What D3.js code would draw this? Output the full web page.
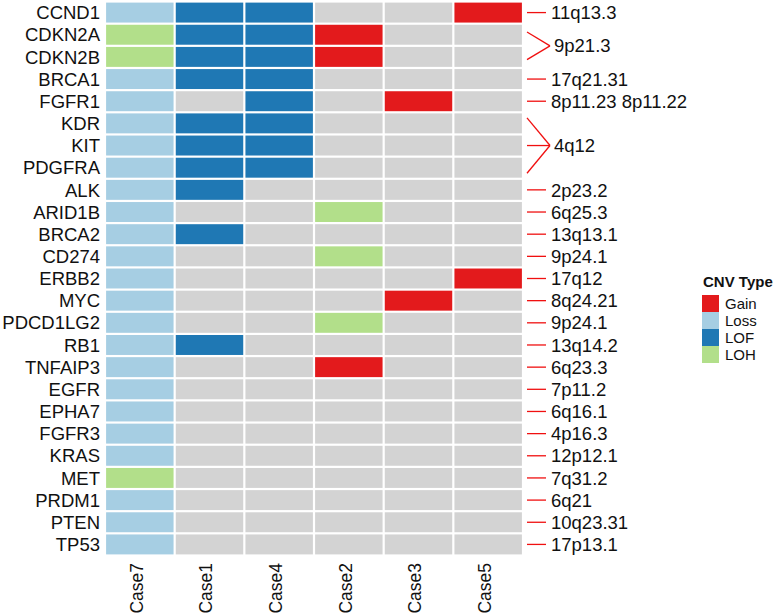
<!DOCTYPE html>
<html>
<head>
<meta charset="utf-8">
<script src="https://cdn.jsdelivr.net/npm/d3@7"></script>
<style>
  body { margin: 0; background: #fff; }
  svg { display: block; font-family: "Liberation Sans", Arial, sans-serif; }
</style>
</head>
<body>
<svg id="chart" width="776" height="616"></svg>
<script>
// data
var genes = ["CCND1", "CDKN2A", "CDKN2B", "BRCA1", "FGFR1", "KDR", "KIT", "PDGFRA", "ALK",
  "ARID1B", "BRCA2", "CD274", "ERBB2", "MYC", "PDCD1LG2", "RB1", "TNFAIP3", "EGFR",
  "EPHA7", "FGFR3", "KRAS", "MET", "PRDM1", "PTEN", "TP53"];

var cases = ["Case7", "Case1", "Case4", "Case2", "Case3", "Case5"];

// one entry per gene, values in the order of cases ("" = no alteration)
var cnvCalls = [
  ["Loss", "LOF", "LOF", "", "", "Gain"],
  ["LOH", "LOF", "LOF", "Gain", "", ""],
  ["LOH", "LOF", "LOF", "Gain", "", ""],
  ["Loss", "LOF", "LOF", "", "", ""],
  ["Loss", "", "LOF", "", "Gain", ""],
  ["Loss", "LOF", "LOF", "", "", ""],
  ["Loss", "LOF", "LOF", "", "", ""],
  ["Loss", "LOF", "LOF", "", "", ""],
  ["Loss", "LOF", "", "", "", ""],
  ["Loss", "", "", "LOH", "", ""],
  ["Loss", "LOF", "", "", "", ""],
  ["Loss", "", "", "LOH", "", ""],
  ["Loss", "", "", "", "", "Gain"],
  ["Loss", "", "", "", "Gain", ""],
  ["Loss", "", "", "LOH", "", ""],
  ["Loss", "LOF", "", "", "", ""],
  ["Loss", "", "", "Gain", "", ""],
  ["Loss", "", "", "", "", ""],
  ["Loss", "", "", "", "", ""],
  ["Loss", "", "", "", "", ""],
  ["Loss", "", "", "", "", ""],
  ["LOH", "", "", "", "", ""],
  ["Loss", "", "", "", "", ""],
  ["Loss", "", "", "", "", ""],
  ["Loss", "", "", "", "", ""]
];

var bandLabels = ["11q13.3", "9p21.3", "17q21.31", "8p11.23 8p11.22", "4q12", "2p23.2",
  "6q25.3", "13q13.1", "9p24.1", "17q12", "8q24.21", "9p24.1", "13q14.2", "6q23.3",
  "7p11.2", "6q16.1", "4p16.3", "12p12.1", "7q31.2", "6q21", "10q23.31", "17p13.1"];

var bandGenes = [["CCND1"], ["CDKN2A", "CDKN2B"], ["BRCA1"], ["FGFR1"], ["KDR", "KIT", "PDGFRA"],
  ["ALK"], ["ARID1B"], ["BRCA2"], ["CD274"], ["ERBB2"], ["MYC"], ["PDCD1LG2"], ["RB1"],
  ["TNFAIP3"], ["EGFR"], ["EPHA7"], ["FGFR3"], ["KRAS"], ["MET"], ["PRDM1"], ["PTEN"], ["TP53"]];

var cnvTypes = ["Gain", "Loss", "LOF", "LOH"];
var cnvColors = ["#E31A1C", "#A6CEE3", "#1F78B4", "#B2DF8A"];

var svg = d3.select("#chart");

var xScale = d3.scaleBand().domain(cases).range([105, 523]);
var yScale = d3.scaleBand().domain(genes).range([1.5, 555.5]);
var color = d3.scaleOrdinal().domain(cnvTypes).range(cnvColors).unknown("#D3D3D3");

// flatten into cells
var cells = [];
genes.forEach(function (g, i) {
  cases.forEach(function (c, j) {
    cells.push({ gene: g, sample: c, type: cnvCalls[i][j] });
  });
});

svg.append("g").selectAll("rect")
  .data(cells)
  .enter().append("rect")
  .attr("x", function (d) { return xScale(d.sample) + 1.1; })
  .attr("y", function (d) { return yScale(d.gene) + 1.1; })
  .attr("width", xScale.bandwidth() - 2.2)
  .attr("height", yScale.bandwidth() - 2.2)
  .attr("fill", function (d) { return d.type ? color(d.type) : "#D3D3D3"; });

// gene names on the left
svg.append("g").selectAll("text")
  .data(genes)
  .enter().append("text")
  .attr("x", 100)
  .attr("y", function (d) { return yScale(d) + yScale.bandwidth() / 2; })
  .attr("dy", "0.36em")
  .attr("text-anchor", "end")
  .attr("font-size", 18.5)
  .attr("fill", "#111")
  .text(function (d) { return d; });

// case names, rotated
svg.append("g").selectAll("text")
  .data(cases)
  .enter().append("text")
  .attr("transform", function (d) {
    return "translate(" + (xScale(d) + xScale.bandwidth() / 2) + ",563) rotate(-90)";
  })
  .attr("dy", "0.16em")
  .attr("text-anchor", "end")
  .attr("font-size", 17.5)
  .attr("fill", "#111")
  .text(function (d) { return d; });

// cytoband marks on the right
var mark = svg.append("g");
bandLabels.forEach(function (band, i) {
  var ys = bandGenes[i].map(function (g) { return yScale(g) + yScale.bandwidth() / 2; });
  var yMid = d3.mean(ys);
  if (ys.length == 1) {
    mark.append("line")
      .attr("x1", 527).attr("x2", 546)
      .attr("y1", yMid).attr("y2", yMid)
      .attr("stroke", "#F01010").attr("stroke-width", 1.3);
    mark.append("text")
      .attr("x", 551).attr("y", yMid).attr("dy", "0.36em")
      .attr("font-size", 18.5).attr("fill", "#111")
      .text(band);
  } else {
    // spread the outer lines a bit, like the original
    ys.forEach(function (y) {
      var y0 = yMid + (y - yMid) * 1.25;
      mark.append("line")
        .attr("x1", 527).attr("x2", 550)
        .attr("y1", y0).attr("y2", yMid)
        .attr("stroke", "#F01010").attr("stroke-width", 1.3);
    });
    mark.append("text")
      .attr("x", 554).attr("y", yMid).attr("dy", "0.36em")
      .attr("font-size", 18.5).attr("fill", "#111")
      .text(band);
  }
});

// legend
var legend = svg.append("g").attr("transform", "translate(702,0)");
legend.append("text")
  .attr("x", 1).attr("y", 287)
  .attr("font-size", 15).attr("font-weight", "bold").attr("fill", "#111")
  .text("CNV Type");
legend.selectAll("rect.key")
  .data(cnvTypes)
  .enter().append("rect")
  .attr("class", "key")
  .attr("x", 0)
  .attr("y", function (d, i) { return 295 + i * 17; })
  .attr("width", 17).attr("height", 17)
  .attr("fill", function (d) { return color(d); });
legend.selectAll("text.key")
  .data(cnvTypes)
  .enter().append("text")
  .attr("class", "key")
  .attr("x", 23)
  .attr("y", function (d, i) { return 295 + i * 17 + 8.5; })
  .attr("dy", "0.36em")
  .attr("font-size", 15).attr("fill", "#111")
  .text(function (d) { return d; });
</script>
</body>
</html>
